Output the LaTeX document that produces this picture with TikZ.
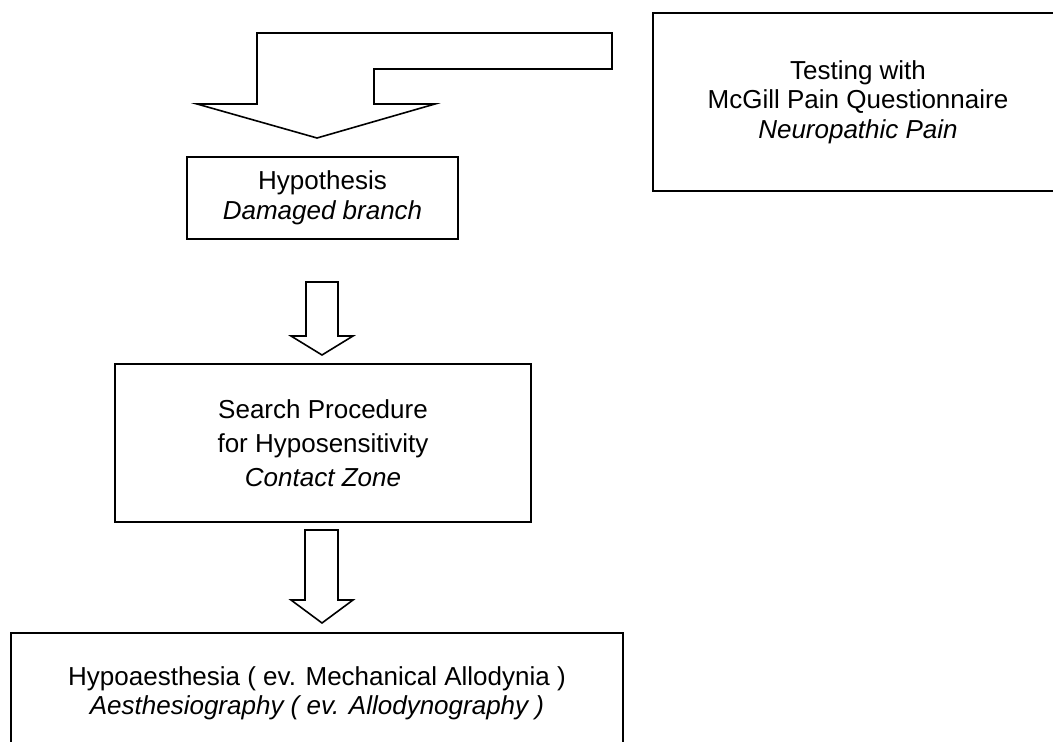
\documentclass[tikz,border=0pt]{standalone}
\usepackage{fontspec}
\setmainfont{Liberation Sans}
\begin{document}
\begin{tikzpicture}[x=0.5pt, y=-0.5pt, line width=0.8pt,
  box/.style={draw, align=center, inner sep=0pt, font=\fontsize{13}{14.75}\selectfont},
  blockarrow/.style={draw, fill=white, line join=miter}]
  \clip (0,0) rectangle (1053,742);
  % Kaesten
  \node[box, minimum width=205pt, minimum height=89pt] (test) at (858,102)
    {Testing with\\McGill Pain Questionnaire\\\textit{Neuropathic Pain}};
  \node[box, minimum width=135.5pt, minimum height=41pt] (hyp) at (322.5,198)
    {Hypothesis\\\textit{Damaged branch}};
  \node[box, minimum width=208pt, minimum height=79pt,
    font=\fontsize{13}{17}\selectfont] (search) at (323,443)
    {Search Procedure\\for Hyposensitivity\\\textit{Contact Zone}};
  \node[box, minimum width=306pt, minimum height=60.5pt,
    font=\fontsize{13}{14.5}\selectfont] (result) at (317,693.5)
    {Hypoaesthesia (\;ev. Mechanical Allodynia\;)\\\textit{Aesthesiography (\;ev. Allodynography\;)}};
  % gewinkelter Pfeil
  \draw[blockarrow] (612,33) -- (257,33) -- (257,104) -- (197,104) -- (317,138)
    -- (435,104) -- (374,104) -- (374,69) -- (612,69) -- cycle;
  % gerade Pfeile
  \draw[blockarrow] (306,282) -- (338,282) -- (338,336) -- (353,336) -- (322,355)
    -- (291,336) -- (306,336) -- cycle;
  \draw[blockarrow] (305,530) -- (338,530) -- (338,600) -- (353,600) -- (322,623)
    -- (291,600) -- (305,600) -- cycle;
\end{tikzpicture}
\end{document}
